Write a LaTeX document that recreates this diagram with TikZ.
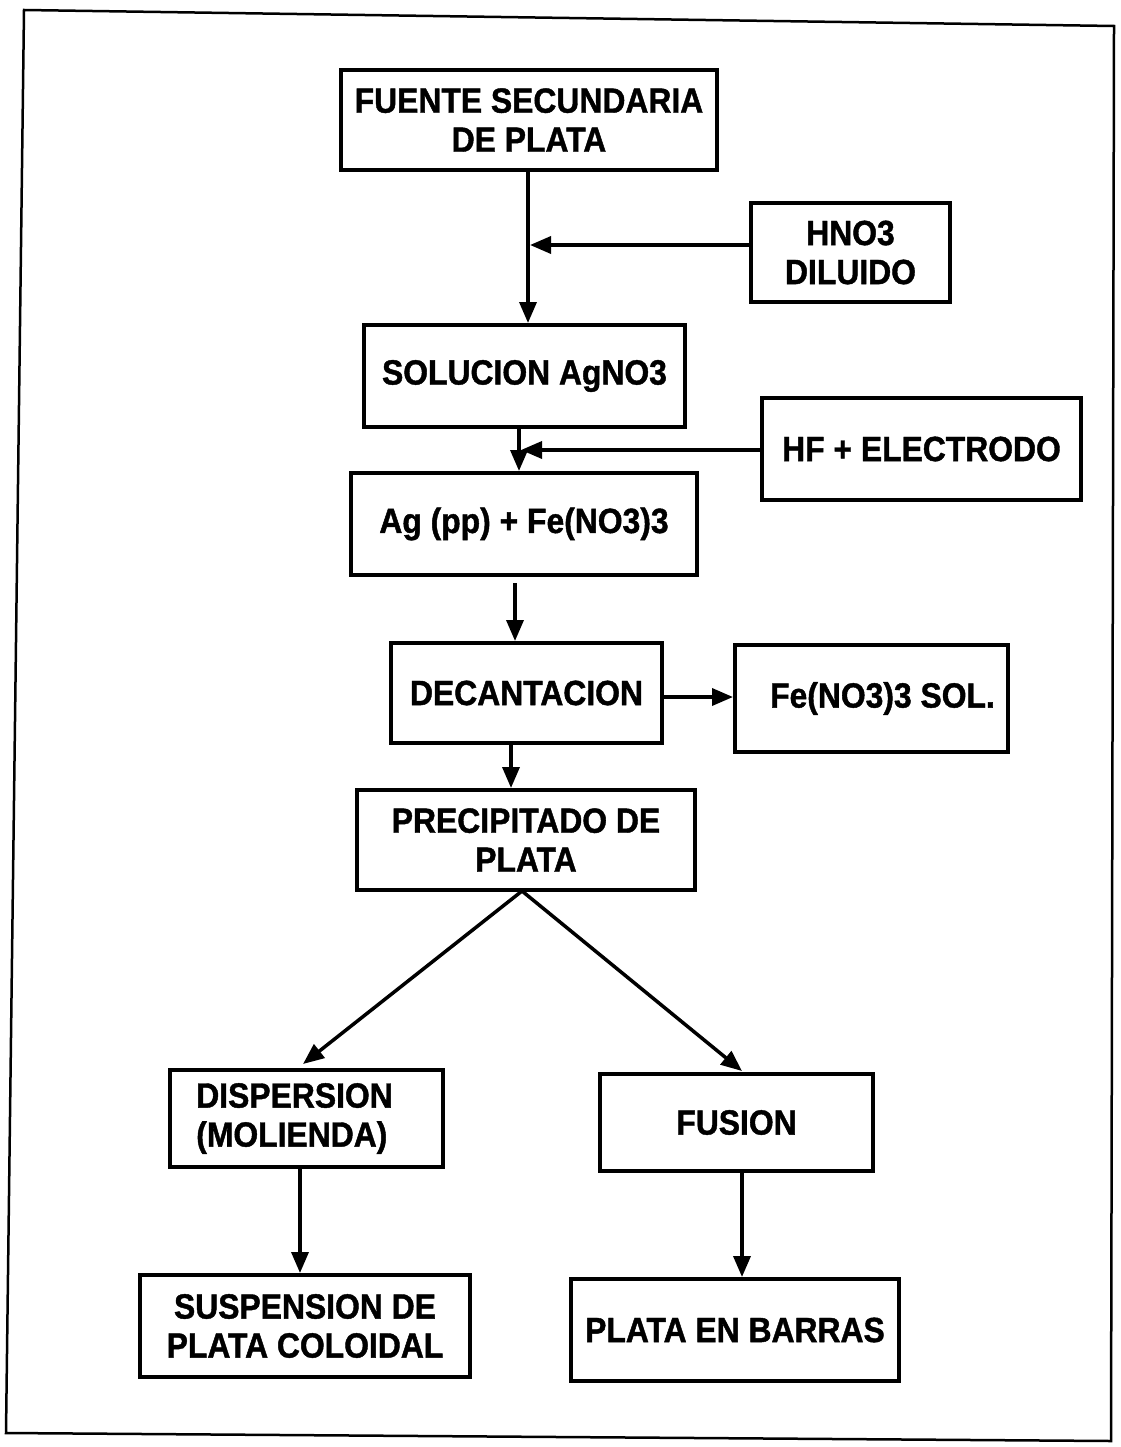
\documentclass[tikz,border=0pt]{standalone}
\usepackage{fontspec}
\newfontfamily\boxfont{Liberation Sans}[FakeStretch=0.91,FakeBold=1.2]
\usetikzlibrary{arrows.meta,calc}
\tikzset{
  proc/.style={draw, line width=4pt, align=center, inner sep=0pt,
    font=\boxfont\bfseries\fontsize{35}{39}\selectfont},
  flow/.style={line width=3.5pt, -{Triangle[length=21pt,width=17pt]}},
  frame/.style={line width=2.5pt}
}
\begin{document}
\begin{tikzpicture}[x=1pt,y=-1pt]
\useasboundingbox (0,0) rectangle (1120,1447);
\draw[frame] (24,10) -- (1114,26) -- (1111,1441) -- (6,1433) -- cycle;

\node[proc, minimum width=376pt, minimum height=100pt] (src) at (529,120) {FUENTE SECUNDARIA\\DE PLATA};
\node[proc, minimum width=199pt, minimum height=99pt] (hno) at (850.5,252.5) {HNO3\\DILUIDO};
\node[proc, minimum width=321pt, minimum height=102pt] (sol) at (524.5,376) {SOLUCION AgNO3};
\node[proc, minimum width=319pt, minimum height=102pt] (hf) at (921.5,449) {HF + ELECTRODO};
\node[proc, minimum width=346pt, minimum height=102pt] (ag) at (524,524) {Ag (pp) + Fe(NO3)3};
\node[proc, minimum width=271pt, minimum height=100pt] (dec) at (526.5,693) {DECANTACION};
\node[proc, minimum width=273pt, minimum height=107pt] (fe) at (871.5,698.5) {\hspace*{22pt}Fe(NO3)3 SOL.};
\node[proc, minimum width=338pt, minimum height=100pt] (pre) at (526,840) {PRECIPITADO DE\\PLATA};
\node[proc, align=left, minimum width=273pt, minimum height=97pt] (disp) at (306.5,1118.5) {DISPERSION\hspace*{24pt}\\(MOLIENDA)};
\node[proc, minimum width=273pt, minimum height=97pt] (fus) at (736.5,1122.5) {FUSION};
\node[proc, minimum width=330pt, minimum height=102pt] (susp) at (305,1326) {SUSPENSION DE\\PLATA COLOIDAL};
\node[proc, minimum width=328pt, minimum height=102pt] (bar) at (735,1330) {PLATA EN BARRAS};

\coordinate (j1) at (530,245);
\coordinate (j2) at (521,450);
\coordinate (j3) at (515,0);
\coordinate (j4) at (511,0);
\coordinate (apex) at (522,891);
\coordinate (tipl) at (303,1064);
\coordinate (tipr) at (742,1071);
\coordinate (j5) at (300,0);
\coordinate (j6) at (742,0);

\draw[flow] ($(src.south -| j1)+(-2,0)$) -- ($(sol.north -| j1)+(-2,0)$);
\draw[flow] (hno.west |- j1) -- (j1);
\draw[flow] ($(sol.south -| j2)+(-2,0)$) -- ($(ag.north -| j2)+(-2,0)$);
\draw[flow] (hf.west |- j2) -- (j2);
\draw[flow] ($(ag.south -| j3)+(0,6)$) -- (dec.north -| j3);
\draw[flow] (dec.east |- 0,697) -- (fe.west |- 0,697);
\draw[flow] (dec.south -| j4) -- (pre.north -| j4);
\draw[flow] (apex) -- (tipl);
\draw[flow] (apex) -- (tipr);
\draw[flow] (disp.south -| j5) -- (susp.north -| j5);
\draw[flow] (fus.south -| j6) -- (bar.north -| j6);
\end{tikzpicture}
\end{document}
